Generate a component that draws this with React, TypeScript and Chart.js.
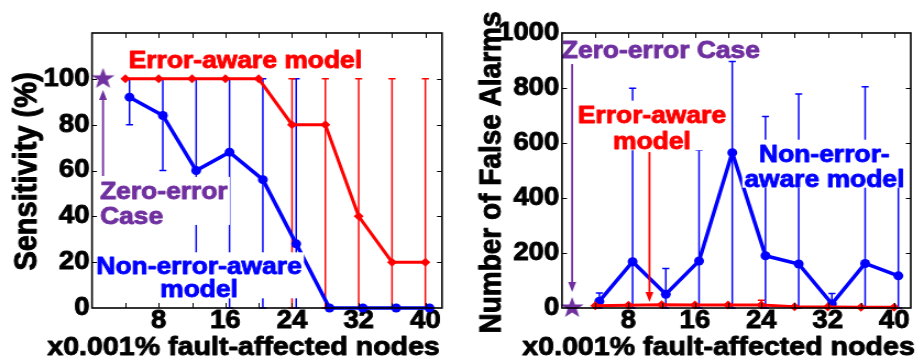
import React, { useEffect, useRef } from "react";
import { Chart, registerables } from "chart.js";

Chart.register(...registerables);

// ---------------- data ----------------
const xErrorAware = [4, 8, 12, 16, 20, 24, 28, 32, 36, 40];
const xNonErrorAware = [4.5, 8.5, 12.5, 16.5, 20.5, 24.5, 28.5, 32.5, 36.5, 40.5];
const xTickLabels = [8, 16, 24, 32, 40];
const xMinorTicks = [4, 8, 12, 16, 20, 24, 28, 32, 36, 40];

const sensTicks = [0, 20, 40, 60, 80, 100];
const sensErrorAware = [100, 100, 100, 100, 100, 80, 80, 40, 20, 20];
const sensErrorAwareLow = [100, 100, 100, 100, 100, 0, 0, 0, 0, 0];
const sensErrorAwareHigh = [100, 100, 100, 100, 100, 100, 100, 100, 100, 100];
const sensNonErrorAware = [92, 84, 60, 68, 56, 28, 0, 0, 0, 0];
const sensNonErrorAwareLow = [80, 60, 10, 0, 0, 0, 0, 0, 0, 0];
const sensNonErrorAwareHigh = [100, 100, 100, 100, 100, 100, 0, 0, 0, 0];
const sensZeroErrorX = [1.32];
const sensZeroError = [100];

const faTicks = [0, 200, 400, 600, 800, 1000];
const faErrorAware = [8, 10, 12, 11, 11, 11, 5, 4, 3, 3];
const faErrorAwareLow = [8, 10, 12, 11, 11, 11, 5, 4, 3, 3];
const faErrorAwareHigh = [8, 10, 12, 11, 11, 28, 5, 4, 3, 3];
const faNonErrorAware = [25, 168, 50, 171, 565, 190, 160, 15, 162, 117];
const faNonErrorAwareLow = [0, 0, 0, 0, 0, 0, 0, 0, 0, 0];
const faNonErrorAwareHigh = [55, 799, 144, 575, 896, 696, 778, 53, 805, 587];
const faZeroErrorX = [1.22];
const faZeroError = [0];

// ---------------- style ----------------
const S = 1.1; // horizontal stretch of the figure
const PANEL_W = 462;
const H = 360;
const BW = Math.round(PANEL_W / S);
const FONT = "'Liberation Sans', Arial, Helvetica, sans-serif";
const BLUE = "#0000FF";
const RED = "#FF0000";
const PURPLE = "#7030A0";
const NOTE_SIZE = 24;
const TICK_SIZE = 25;
const TEXT_STROKE = 0.9;
const CAP = 3.2;
const HEAD_LEN = 10;
const HEAD_W = 3.6;

type Series = {
  x: number[];
  y: number[];
  low: number[];
  high: number[];
  color: string;
  width: number;
  style: string;
  radius: number;
};
type Note = {
  lines: string[];
  x: number;
  y: number;
  align: "left" | "center";
  color: string;
  gap: number;
};
type Arrow = { x: number; from: number; to: number; color: string };
type PanelCfg = {
  yMax: number;
  yTicks: number[];
  plotLeft: number;
  padRight: number;
  yTitle: string;
  yTitleSize: number;
  yTitleX: number;
  yTitleY: number;
  xTitle: string;
  xTitleX: number;
  series: Series[];
  zero: { x: number[]; y: number[] };
  notes: Note[];
  arrows: Arrow[];
  tickPad: number;
};

const leftPanel: PanelCfg = {
  yMax: 120,
  yTicks: sensTicks,
  plotLeft: 92 / S,
  padRight: BW - 442 / S,
  yTitle: "Sensitivity (%)",
  yTitleSize: 29,
  yTitleX: 36.7 / S,
  yTitleY: 171.5,
  xTitle: "x0.001% fault-affected nodes",
  xTitleX: 243.5 / S,
  tickPad: 2.3,
  series: [
    { x: xErrorAware, y: sensErrorAware, low: sensErrorAwareLow, high: sensErrorAwareHigh, color: RED, width: 3, style: "rectRot", radius: 4.5 },
    { x: xNonErrorAware, y: sensNonErrorAware, low: sensNonErrorAwareLow, high: sensNonErrorAwareHigh, color: BLUE, width: 3.5, style: "circle", radius: 4.5 },
  ],
  zero: { x: sensZeroErrorX, y: sensZeroError },
  notes: [
    { lines: ["Error-aware model"], x: 18.4, y: 104.9, align: "center", color: RED, gap: 25 },
    { lines: ["Zero-error", "Case"], x: 0.96, y: 47.6, align: "left", color: PURPLE, gap: 25 },
    { lines: ["Non-error-aware", "model"], x: 12.84, y: 14.7, align: "center", color: BLUE, gap: 23 },
  ],
  arrows: [{ x: 1.32, from: 57.6, to: 95.1, color: PURPLE }],
};

const rightPanel: PanelCfg = {
  yMax: 1000,
  yTicks: faTicks,
  plotLeft: 100 / S,
  padRight: BW - 451 / S,
  yTitle: "Number of False Alarms",
  yTitleSize: 28,
  yTitleX: 38 / S,
  yTitleY: 172.5,
  xTitle: "x0.001% fault-affected nodes",
  xTitleX: 256.5 / S,
  tickPad: 2.5,
  series: [
    { x: xErrorAware, y: faErrorAware, low: faErrorAwareLow, high: faErrorAwareHigh, color: RED, width: 3, style: "rectRot", radius: 4.5 },
    { x: xNonErrorAware, y: faNonErrorAware, low: faNonErrorAwareLow, high: faNonErrorAwareHigh, color: BLUE, width: 3.5, style: "circle", radius: 4.5 },
  ],
  zero: { x: faZeroErrorX, y: faZeroError },
  notes: [
    { lines: ["Zero-error Case"], x: 11.9, y: 908, align: "center", color: PURPLE, gap: 25 },
    { lines: ["Error-aware", "model"], x: 10.83, y: 674, align: "center", color: RED, gap: 26.6 },
    { lines: ["Non-error-", "aware model"], x: 31.59, y: 532, align: "center", color: BLUE, gap: 25 },
  ],
  arrows: [
    { x: 1.22, from: 887, to: 58, color: PURPLE },
    { x: 10.53, from: 567, to: 22, color: RED },
  ],
};

function makeStar(R: number, color: string): HTMLCanvasElement {
  const size = Math.ceil(R * 2 + 2);
  const c = document.createElement("canvas");
  c.width = size;
  c.height = size;
  const g = c.getContext("2d")!;
  const cx = size / 2;
  const cy = size / 2;
  const r = R * 0.4;
  g.beginPath();
  for (let k = 0; k < 10; k++) {
    const ang = -Math.PI / 2 + (k * Math.PI) / 5;
    const rad = k % 2 === 0 ? R : r;
    const px = cx + rad * Math.cos(ang);
    const py = cy + rad * Math.sin(ang);
    if (k === 0) g.moveTo(px, py);
    else g.lineTo(px, py);
  }
  g.closePath();
  g.fillStyle = color;
  g.fill();
  return c;
}

function boldText(ctx: CanvasRenderingContext2D, text: string, x: number, y: number, color: string) {
  ctx.fillStyle = color;
  ctx.strokeStyle = color;
  ctx.lineWidth = TEXT_STROKE;
  ctx.lineJoin = "round";
  ctx.fillText(text, x, y);
  ctx.strokeText(text, x, y);
}

function buildChart(canvas: HTMLCanvasElement, p: PanelCfg) {
  const star = makeStar(11, PURPLE);
  const tickFont = { family: FONT, size: TICK_SIZE, weight: "bold" as const, lineHeight: 1 };

  const datasets: any[] = p.series.map((s) => ({
    data: s.x.map((x, i) => ({ x, y: s.y[i] })),
    borderColor: s.color,
    backgroundColor: s.color,
    borderWidth: s.width,
    pointStyle: s.style,
    pointRadius: s.radius,
    pointBackgroundColor: s.color,
    pointBorderColor: s.color,
    pointBorderWidth: 0,
    showLine: true,
    tension: 0,
    clip: false,
  }));
  datasets.push({
    data: p.zero.x.map((x, i) => ({ x, y: p.zero.y[i] })),
    showLine: false,
    pointStyle: star,
    pointRadius: 11,
    clip: false,
  });

  const errorBars = {
    id: "errorBars",
    beforeDatasetsDraw(chart: any) {
      const { ctx, chartArea: ca } = chart;
      const xs = chart.scales.x;
      const ys = chart.scales.y;
      ctx.save();
      ctx.beginPath();
      ctx.rect(ca.left - 2, ca.top - 2, ca.right - ca.left + 4, ca.bottom - ca.top + 4);
      ctx.clip();
      const order = [...p.series].reverse();
      for (const s of order) {
        ctx.strokeStyle = s.color;
        ctx.lineWidth = 1.5;
        s.x.forEach((xv, i) => {
          const lo = s.low[i];
          const hi = s.high[i];
          if (hi - lo <= 0) return;
          const px = xs.getPixelForValue(xv);
          const yl = ys.getPixelForValue(lo);
          const yh = ys.getPixelForValue(hi);
          ctx.beginPath();
          ctx.moveTo(px, yl);
          ctx.lineTo(px, yh);
          ctx.moveTo(px - CAP, yl);
          ctx.lineTo(px + CAP, yl);
          ctx.moveTo(px - CAP, yh);
          ctx.lineTo(px + CAP, yh);
          ctx.stroke();
        });
      }
      ctx.restore();
    },
  };

  const deco = {
    id: "deco",
    afterDatasetsDraw(chart: any) {
      const { ctx } = chart;
      const xs = chart.scales.x;
      const ys = chart.scales.y;
      ctx.save();
      for (const a of p.arrows) {
        const px = xs.getPixelForValue(a.x);
        const y0 = ys.getPixelForValue(a.from);
        const y1 = ys.getPixelForValue(a.to);
        const dir = Math.sign(y1 - y0);
        ctx.strokeStyle = a.color;
        ctx.fillStyle = a.color;
        ctx.lineWidth = 1.8;
        ctx.beginPath();
        ctx.moveTo(px, y0);
        ctx.lineTo(px, y1 - dir * HEAD_LEN);
        ctx.stroke();
        ctx.beginPath();
        ctx.moveTo(px, y1);
        ctx.lineTo(px - HEAD_W, y1 - dir * HEAD_LEN);
        ctx.lineTo(px + HEAD_W, y1 - dir * HEAD_LEN);
        ctx.closePath();
        ctx.fill();
      }
      ctx.font = `bold ${NOTE_SIZE}px ${FONT}`;
      ctx.textBaseline = "alphabetic";
      for (const n of p.notes) {
        const ax = xs.getPixelForValue(n.x);
        const by = ys.getPixelForValue(n.y);
        const widths = n.lines.map((l) => ctx.measureText(l).width);
        const maxW = Math.max(...widths);
        const left = n.align === "left" ? ax : ax - maxW / 2;
        const lastBase = by + n.gap * (n.lines.length - 1);
        const top = by - 22;
        ctx.fillStyle = "#ffffff";
        ctx.fillRect(left - 2, top, maxW + 4, lastBase + 1 - top);
        ctx.textAlign = n.align;
        n.lines.forEach((l, i) => boldText(ctx, l, ax, by + i * n.gap, n.color));
      }
      ctx.restore();
    },
    afterDraw(chart: any) {
      const { ctx, chartArea: ca } = chart;
      const xs = chart.scales.x;
      const ys = chart.scales.y;
      ctx.save();
      // inward ticks
      ctx.strokeStyle = "#000";
      ctx.lineWidth = 1;
      ctx.beginPath();
      for (const v of xMinorTicks) {
        const px = Math.round(xs.getPixelForValue(v)) + 0.5;
        ctx.moveTo(px, ca.bottom);
        ctx.lineTo(px, ca.bottom - 5);
        ctx.moveTo(px, ca.top);
        ctx.lineTo(px, ca.top + 5);
      }
      for (const v of p.yTicks) {
        if (v <= 0 || v >= p.yMax) continue;
        const py = Math.round(ys.getPixelForValue(v)) + 0.5;
        ctx.moveTo(ca.left, py);
        ctx.lineTo(ca.left + 4.5, py);
        ctx.moveTo(ca.right, py);
        ctx.lineTo(ca.right - 4.5, py);
      }
      ctx.stroke();
      // box
      ctx.lineWidth = 1.6;
      ctx.strokeRect(ca.left, ca.top, ca.right - ca.left, ca.bottom - ca.top);
      // titles
      ctx.font = `bold ${p.yTitleSize}px ${FONT}`;
      ctx.save();
      ctx.translate(p.yTitleX, p.yTitleY);
      ctx.rotate(-Math.PI / 2);
      ctx.textAlign = "center";
      ctx.textBaseline = "alphabetic";
      boldText(ctx, p.yTitle, 0, 0, "#000");
      ctx.restore();
      ctx.font = `bold 26px ${FONT}`;
      ctx.textAlign = "center";
      ctx.textBaseline = "alphabetic";
      boldText(ctx, p.xTitle, p.xTitleX, 355, "#000");
      ctx.restore();
    },
  };

  return new Chart(canvas, {
    type: "line",
    data: { datasets },
    options: {
      animation: false,
      responsive: false,
      events: [],
      layout: { padding: { top: 33, right: p.padRight, left: 0, bottom: 0 } },
      plugins: { legend: { display: false }, tooltip: { enabled: false } },
      scales: {
        x: {
          type: "linear",
          min: 0,
          max: 42,
          grid: { display: false, drawTicks: false },
          border: { display: false },
          afterBuildTicks: (s: any) => {
            s.ticks = xTickLabels.map((v) => ({ value: v }));
          },
          afterFit: (s: any) => {
            s.height = 52;
          },
          ticks: {
            autoSkip: false,
            maxRotation: 0,
            minRotation: 0,
            padding: 1,
            color: "#000",
            textStrokeColor: "#000",
            textStrokeWidth: TEXT_STROKE,
            font: tickFont,
            callback: (v: any) => String(v),
          },
        },
        y: {
          type: "linear",
          min: 0,
          max: p.yMax,
          grid: { display: false, drawTicks: false },
          border: { display: false },
          afterBuildTicks: (s: any) => {
            s.ticks = p.yTicks.map((v) => ({ value: v }));
          },
          afterFit: (s: any) => {
            s.width = p.plotLeft;
          },
          ticks: {
            padding: p.tickPad,
            color: "#000",
            textStrokeColor: "#000",
            textStrokeWidth: TEXT_STROKE,
            font: tickFont,
            callback: (v: any) => String(v),
          },
        },
      },
    } as any,
    plugins: [errorBars, deco],
  } as any);
}

function ChartPanel({ panel }: { panel: PanelCfg }) {
  const ref = useRef<HTMLCanvasElement | null>(null);
  useEffect(() => {
    if (!ref.current) return;
    const chart = buildChart(ref.current, panel);
    return () => chart.destroy();
  }, [panel]);
  return (
    <canvas
      ref={ref}
      width={BW}
      height={H}
      style={{ width: `${PANEL_W}px`, height: `${H}px`, display: "block" }}
    />
  );
}

export default function App() {
  return (
    <div
      style={{
        position: "absolute",
        left: 0,
        top: 0,
        width: 924,
        height: 360,
        display: "flex",
        background: "#fff",
      }}
    >
      <ChartPanel panel={leftPanel} />
      <ChartPanel panel={rightPanel} />
    </div>
  );
}
